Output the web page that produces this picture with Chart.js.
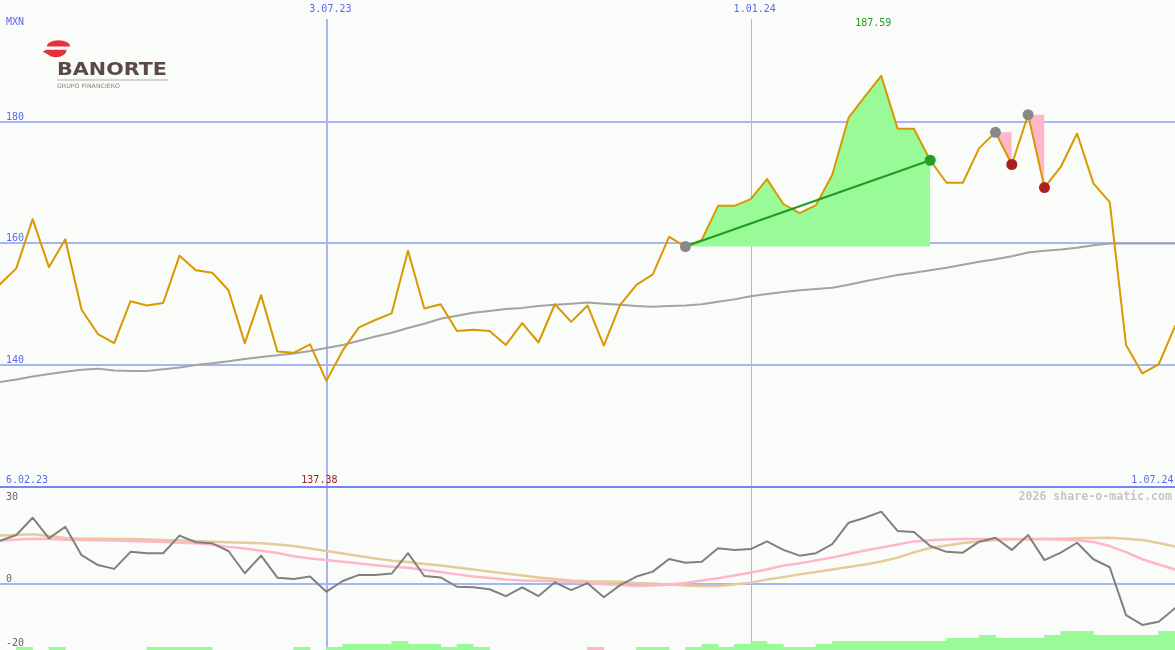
<!DOCTYPE html>
<html><head><meta charset="utf-8">
<script src="https://cdn.jsdelivr.net/npm/chart.js@4.4.1/dist/chart.umd.min.js"></script>
<style>
html,body{margin:0;padding:0;background:#fafcfa;overflow:hidden}
#wrap{position:relative;width:1175px;height:650px}
canvas{position:absolute;left:0;display:block}
#main{top:0}
#lower{top:486px}
</style></head><body>
<div id="wrap"><canvas id="main" width="1175" height="486"></canvas><canvas id="lower" width="1175" height="164"></canvas></div>
<script>
// ---------- data ----------
const dates = ['13.02.23','20.02.23','27.02.23','6.03.23','13.03.23','20.03.23','27.03.23','3.04.23','10.04.23','17.04.23','24.04.23','1.05.23','8.05.23','15.05.23','22.05.23','29.05.23','5.06.23','12.06.23','19.06.23','26.06.23','3.07.23','10.07.23','17.07.23','24.07.23','31.07.23','7.08.23','14.08.23','21.08.23','28.08.23','4.09.23','11.09.23','18.09.23','25.09.23','2.10.23','9.10.23','16.10.23','23.10.23','30.10.23','6.11.23','13.11.23','20.11.23','27.11.23','4.12.23','11.12.23','18.12.23','25.12.23','1.01.24','8.01.24','15.01.24','22.01.24','29.01.24','5.02.24','12.02.24','19.02.24','26.02.24','4.03.24','11.03.24','18.03.24','25.03.24','1.04.24','8.04.24','15.04.24','22.04.24','29.04.24','6.05.24','13.05.24','20.05.24','27.05.24','3.06.24','10.06.24','17.06.24','24.06.24','1.07.24'];
const price = [153.3,155.9,164.0,156.1,160.7,149.1,145.1,143.6,150.5,149.8,
  150.2,158.0,155.6,155.2,152.3,143.6,151.5,142.2,142.0,143.4,
  137.38,142.4,146.2,147.4,148.5,158.8,149.3,150.0,145.6,145.8,
  145.6,143.3,146.9,143.7,150.0,147.1,149.8,143.2,149.9,153.2,
  154.9,161.1,159.5,160.6,166.2,166.2,167.3,170.6,166.5,165.0,
  166.3,171.3,180.7,184.2,187.59,178.9,178.9,173.7,170.0,170.0,
  175.7,178.3,173.0,181.2,169.2,172.6,178.1,169.9,166.8,143.3,
  138.6,140.1,146.4];
const movingAvg = [137.2,137.6,138.1,138.5,138.9,139.2,139.4,139.1,139.0,139.0,
  139.3,139.6,140.0,140.3,140.6,141.0,141.3,141.6,141.9,142.3,
  142.8,143.3,144.0,144.7,145.3,146.1,146.8,147.6,148.1,148.6,
  148.9,149.2,149.4,149.7,149.9,150.1,150.3,150.1,149.9,149.7,
  149.6,149.7,149.8,150.0,150.4,150.8,151.3,151.7,152.0,152.3,
  152.5,152.7,153.2,153.8,154.3,154.8,155.2,155.6,156.0,156.5,
  157.0,157.4,157.9,158.5,158.8,159.0,159.3,159.7,160.0,160.0,
  160.0,160.0,160.0];
const oscillator = [15.75,17.8,24.1,16.6,20.8,10.5,6.9,5.5,11.7,11.2,
  11.2,17.6,15.2,14.8,12.0,3.9,10.3,2.3,1.8,2.7,
  -2.8,1.1,3.3,3.3,3.8,11.2,2.9,2.4,-1.0,-1.2,
  -1.9,-4.4,-1.2,-4.4,0.6,-2.2,0.3,-4.8,-0.4,2.7,
  4.5,9.1,7.7,8.1,13.0,12.4,12.7,15.5,12.4,10.3,
  11.2,14.5,22.3,24.1,26.3,19.3,18.9,13.8,11.7,11.4,
  15.4,16.8,12.4,17.8,8.7,11.4,15.0,9.0,6.1,-11.3,
  -14.9,-13.7,-8.8];
const signalFast = [15.7,16.2,16.5,16.4,16.1,16.0,15.9,15.8,15.6,15.5,
  15.3,15.0,14.8,14.4,13.5,12.9,12.1,11.3,10.1,9.3,
  8.7,8.1,7.5,6.8,6.3,5.9,5.1,4.4,3.5,2.7,
  2.2,1.6,1.3,1.2,1.0,0.8,0.4,-0.1,-0.4,-0.7,
  -0.5,-0.2,0.4,1.3,2.1,3.1,4.2,5.3,6.7,7.5,
  8.6,9.6,10.9,12.2,13.3,14.4,15.5,15.9,16.2,16.4,
  16.4,16.4,16.4,16.4,16.4,16.2,15.9,15.3,13.8,11.6,
  9.0,7.1,5.3];
const signalSlow = [17.6,17.8,18.1,17.5,16.7,16.5,16.5,16.4,16.4,16.2,
  16.0,15.8,15.6,15.4,15.2,15.0,14.8,14.4,13.8,12.9,
  12.0,11.1,10.2,9.3,8.5,8.0,7.3,6.7,6.0,5.3,
  4.5,3.8,3.1,2.4,1.8,1.3,1.0,0.9,0.8,0.4,
  0.2,-0.2,-0.5,-0.7,-0.7,-0.2,0.5,1.6,2.5,3.5,
  4.4,5.3,6.2,7.1,8.2,9.6,11.5,13.1,14.0,14.9,
  15.5,16.0,16.3,16.3,16.4,16.5,16.6,16.7,16.8,16.5,
  16.0,14.9,13.6];
const trendStrength = [0,1,0,1,0,0,0,0,0,1,
  1,1,1,0,0,0,0,0,1,0,
  1,2,2,2,3,2,2,1,2,1,
  0,0,0,0,0,0,-1,0,0,1,
  1,0,1,2,1,2,3,2,1,1,
  2,3,3,3,3,3,3,3,4,4,
  5,4,4,4,5,6.3,6.3,5,5,5,
  5,6.3];
const upMove = [42, 57];
const downMoves = [[61, 62], [63, 64]];
const mainTicks = [180, 160, 140];
const lowerTicks = [30, 0, -20];
const markedDates = ['3.07.23', '1.01.24'];
const rangeStart = '6.02.23';
const rangeEnd = '1.07.24';
const currency = 'MXN';

// ---------- style ----------
const BG = '#fafcfa';
const GRID = '#a8b5f3';
const SEP = '#7586ee';
const LABEL = '#5a6af0';
const MONO = '"DejaVu Sans Mono", monospace';

const pts = arr => arr.map((v, i) => ({x: i, y: v}));
const seg = (arr, a, b) => arr.slice(a, b + 1).map((v, i) => ({x: a + i, y: v}));
const at = idx => idx.map(i => ({x: i, y: price[i]}));
const lastIdx = dates.length - 1;
const maxIdx = price.indexOf(Math.max(...price));
const minIdx = price.indexOf(Math.min(...price));

function drawLogo(c) {
  c.save();
  c.fillStyle = '#e5323d';
  c.beginPath(); c.ellipse(58.5, 46.6, 11.6, 6.4, 0, Math.PI, Math.PI * 2); c.closePath(); c.fill();
  c.beginPath(); c.ellipse(56, 49.8, 10.6, 7.5, 0, 0, Math.PI); c.closePath(); c.fill();
  c.beginPath(); c.moveTo(42.7, 51.5); c.lineTo(47, 49.8); c.lineTo(47, 54); c.closePath(); c.fill();
  c.fillStyle = '#5b4a43';
  c.font = 'bold 17px "DejaVu Sans"';
  c.textBaseline = 'alphabetic';
  let w = c.measureText('BANORTE').width;
  c.save(); c.translate(57, 75); c.scale(110 / w, 1); c.fillText('BANORTE', 0, 0); c.restore();
  c.fillStyle = '#d6d2d0'; c.fillRect(57, 79, 111, 2);
  c.fillStyle = '#8a7f7a';
  c.font = '6px "DejaVu Sans"';
  w = c.measureText('GRUPO FINANCIERO').width;
  c.save(); c.translate(57, 88); c.scale(63 / w, 1); c.fillText('GRUPO FINANCIERO', 0, 0); c.restore();
  c.restore();
}

function vLines(chart, top) {
  const c = chart.ctx, xs = chart.scales.x;
  markedDates.forEach((d, j) => {
    const px = xs.getPixelForValue(dates.indexOf(d));
    const w = j === 0 ? 2 : 1;
    const cx = w === 2 ? Math.round(px + 0.5) : Math.floor(px + 0.5) + 0.5;
    c.strokeStyle = GRID; c.lineWidth = w;
    c.beginPath(); c.moveTo(cx, top); c.lineTo(cx, chart.height); c.stroke();
  });
}

const mainDecor = {
  id: 'mainDecor',
  beforeDraw(chart) {
    const c = chart.ctx;
    c.save(); c.fillStyle = BG; c.fillRect(0, 0, chart.width, chart.height); drawLogo(c); c.restore();
  },
  beforeDatasetsDraw(chart) {
    const c = chart.ctx, ys = chart.scales.y;
    c.save();
    vLines(chart, 19);
    c.strokeStyle = GRID; c.lineWidth = 2;
    mainTicks.forEach(v => {
      const y = Math.round(ys.getPixelForValue(v));
      c.beginPath(); c.moveTo(0, y); c.lineTo(chart.width, y); c.stroke();
    });
    c.restore();
  },
  afterDatasetsDraw(chart) {
    const c = chart.ctx, ys = chart.scales.y, xs = chart.scales.x;
    c.save();
    c.font = '10px ' + MONO; c.textBaseline = 'alphabetic';
    c.fillStyle = LABEL; c.textAlign = 'left';
    c.fillText(currency, 6, 25);
    mainTicks.forEach(v => c.fillText(String(v), 6, Math.round(ys.getPixelForValue(v)) - 2));
    c.textAlign = 'center';
    markedDates.forEach(d => c.fillText(d, xs.getPixelForValue(dates.indexOf(d)) + 4, 12));
    c.textAlign = 'left';
    c.fillText(rangeStart, 6, 483);
    c.textAlign = 'right';
    c.fillText(rangeEnd, 1173.5, 483);
    c.textAlign = 'center';
    c.fillStyle = '#229922';
    c.fillText(price[maxIdx].toFixed(2), xs.getPixelForValue(maxIdx) - 8, 25.5);
    c.fillStyle = '#a01e1e';
    c.fillText(price[minIdx].toFixed(2), xs.getPixelForValue(minIdx) - 7, 483);
    c.restore();
  }
};

const lowerDecor = {
  id: 'lowerDecor',
  beforeDraw(chart) {
    const c = chart.ctx;
    c.save(); c.fillStyle = BG; c.fillRect(0, 0, chart.width, chart.height); c.restore();
  },
  beforeDatasetsDraw(chart) {
    const c = chart.ctx, ys = chart.scales.y;
    c.save();
    vLines(chart, 0);
    c.strokeStyle = GRID; c.lineWidth = 2;
    const y0 = Math.round(ys.getPixelForValue(0));
    c.beginPath(); c.moveTo(0, y0); c.lineTo(chart.width, y0); c.stroke();
    c.restore();
  },
  afterDatasetsDraw(chart) {
    const c = chart.ctx, ys = chart.scales.y;
    c.save();
    c.strokeStyle = SEP; c.lineWidth = 2;
    c.beginPath(); c.moveTo(0, 1); c.lineTo(chart.width, 1); c.stroke();
    c.font = '10px ' + MONO; c.textBaseline = 'alphabetic'; c.textAlign = 'left';
    c.fillStyle = '#666666';
    lowerTicks.forEach((v, j) => {
      const y = Math.round(ys.getPixelForValue(v));
      c.fillText(String(v), 6, j === lowerTicks.length - 1 ? y + 7 : y - 2);
    });
    c.font = 'bold 11.6px ' + MONO; c.textAlign = 'right'; c.fillStyle = '#c6c6c6';
    c.fillText('2026 share-o-matic.com', 1172, 14);
    c.restore();
  }
};

const X = {type: 'linear', min: 0, max: lastIdx, display: false, offset: false, grace: 0};
const common = {
  responsive: false, animation: false, devicePixelRatio: 1, events: [],
  layout: {padding: 0, autoPadding: false},
  plugins: {legend: {display: false}, tooltip: {enabled: false}},
  elements: {line: {tension: 0, borderCapStyle: 'round', borderJoinStyle: 'round'}, point: {radius: 0}}
};

const mainDatasets = [
  {data: seg(price, upMove[0], upMove[1]), borderColor: 'transparent', borderWidth: 0,
   backgroundColor: '#98fb98', fill: {value: price[upMove[0]]}, pointRadius: 0, order: 6},
  ...downMoves.map(([a, b]) => ({data: seg(price, a, b), borderColor: 'transparent', borderWidth: 0,
   backgroundColor: '#ffb6c8', fill: {value: price[a]}, pointRadius: 0, order: 5})),
  {data: pts(movingAvg), borderColor: '#a3a3a3', borderWidth: 2, pointRadius: 0, fill: false, order: 4},
  {data: pts(price), borderColor: '#da9800', borderWidth: 2, pointRadius: 0, fill: false, order: 3},
  {data: at(upMove), borderColor: '#229922', borderWidth: 2, pointRadius: 0, fill: false, order: 2},
  {data: at([upMove[0], ...downMoves.map(d => d[0])]), showLine: false, pointRadius: 5.5,
   pointBackgroundColor: '#888888', pointBorderWidth: 0, order: 1},
  {data: at(downMoves.map(d => d[1])), showLine: false, pointRadius: 5.5,
   pointBackgroundColor: '#a82020', pointBorderWidth: 0, order: 1},
  {data: at([upMove[1]]), showLine: false, pointRadius: 5.5,
   pointBackgroundColor: '#22a022', pointBorderWidth: 0, order: 1}
];

new Chart(document.getElementById('main'), {
  type: 'line',
  data: {datasets: mainDatasets},
  options: Object.assign({}, common, {
    scales: {x: X, y: {type: 'linear', min: 120.08, max: 200.08, display: false}}
  }),
  plugins: [mainDecor]
});

new Chart(document.getElementById('lower'), {
  type: 'line',
  data: {datasets: [
    {data: pts(oscillator), borderColor: '#808080', borderWidth: 2, pointRadius: 0, fill: false, order: 0},
    {data: pts(signalFast), borderColor: '#ffb6c8', borderWidth: 2.5, pointRadius: 0, fill: false, order: 1},
    {data: pts(signalSlow), borderColor: '#e4cb98', borderWidth: 2.5, pointRadius: 0, fill: false, order: 2},
    {type: 'bar', yAxisID: 'yb', order: 3,
     data: trendStrength.map((v, i) => ({x: i + 0.5, y: Math.abs(v)})),
     backgroundColor: trendStrength.map(v => v < 0 ? '#ffb6c8' : '#98fb98'),
     borderWidth: 0, barPercentage: 1.04, categoryPercentage: 1}
  ]},
  options: Object.assign({}, common, {
    scales: {
      x: X,
      y: {type: 'linear', min: -24, max: 35.64, display: false},
      yb: {type: 'linear', min: 0, max: 54.67, display: false, position: 'right'}
    }
  }),
  plugins: [lowerDecor]
});
</script>
</body></html>
